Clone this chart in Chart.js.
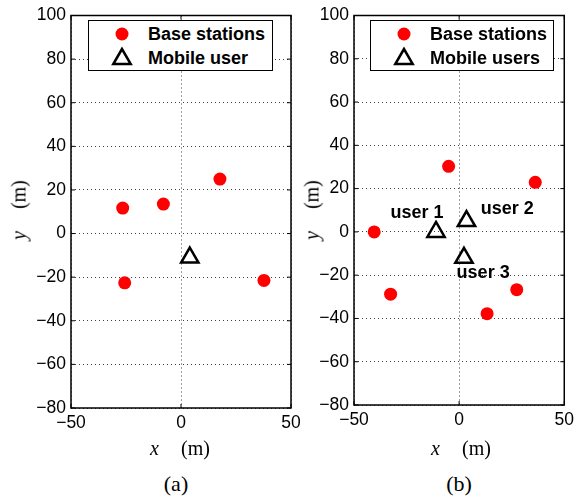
<!DOCTYPE html>
<html>
<head>
<meta charset="utf-8">
<script src="https://cdn.jsdelivr.net/npm/chart.js"></script>
<style>
body { margin: 0; background: #fff; }
#lienzo { position: relative; width: 579px; height: 500px; overflow: hidden; font-family: "Liberation Sans", Arial, sans-serif; }
canvas { position: absolute; top: 0; }
.leyenda { position: absolute; top: 20px; height: 51px; box-sizing: border-box; border: 1.5px solid #000; background: #fff; }
.leyenda .txt { position: absolute; font-weight: bold; font-size: 18px; line-height: 22px; white-space: nowrap; color: #000; }
.leyenda svg { position: absolute; }
.eje { position: absolute; font-family: "Liberation Serif", "DejaVu Serif", serif; font-size: 20px; white-space: nowrap; color: #000; }
.eje i { margin-right: 22px; }
.sub { position: absolute; font-family: "Liberation Serif", "DejaVu Serif", serif; font-size: 22px; color: #000; }
</style>
</head>
<body>
<div id="lienzo">
  <canvas id="graficaA" width="310" height="440" style="left:0"></canvas>
  <canvas id="graficaB" width="289" height="440" style="left:290px"></canvas>

  <div class="leyenda" style="left:88px; width:185px">
    <svg width="16" height="16" style="left:25px; top:5px"><circle cx="8" cy="8" r="6.5" fill="#ff0000"/></svg>
    <div class="txt" style="left:59px; top:2px">Base stations</div>
    <svg width="24" height="22" style="left:21px; top:25px"><polygon points="12,3 3.3,18 20.7,18" fill="none" stroke="#000" stroke-width="2.5" stroke-linejoin="miter"/></svg>
    <div class="txt" style="left:59px; top:26px">Mobile user</div>
  </div>
  <div class="leyenda" style="left:370px; width:184px">
    <svg width="16" height="16" style="left:25px; top:5px"><circle cx="8" cy="8" r="6.5" fill="#ff0000"/></svg>
    <div class="txt" style="left:59px; top:2px">Base stations</div>
    <svg width="24" height="22" style="left:21px; top:25px"><polygon points="12,3 3.3,18 20.7,18" fill="none" stroke="#000" stroke-width="2.5" stroke-linejoin="miter"/></svg>
    <div class="txt" style="left:59px; top:26px">Mobile users</div>
  </div>

  <div class="eje" style="left:19px; top:210px; transform: translate(-50%,-50%) rotate(-90deg)"><i>y</i>(m)</div>
  <div class="eje" style="left:312px; top:210px; transform: translate(-50%,-50%) rotate(-90deg)"><i>y</i>(m)</div>
  <div class="eje" style="left:180px; top:448px; transform: translate(-50%,-50%)"><i>x</i>(m)</div>
  <div class="eje" style="left:461px; top:448px; transform: translate(-50%,-50%)"><i>x</i>(m)</div>
  <div class="sub" style="left:176px; top:484px; transform: translate(-50%,-50%)">(a)</div>
  <div class="sub" style="left:459px; top:484px; transform: translate(-50%,-50%)">(b)</div>
</div>

<script>
// (a) un usuario
var estaciones_a_x = [-26.5, -8, 17.7, -25.6, 37.7]
var estaciones_a_y = [11.7, 13.5, 25, -22.6, -21.5]
var usuario_a_x = [4]
var usuario_a_y = [-11]

// (b) tres usuarios
var estaciones_b_x = [-40.4, -5, 36.2, -32.6, 13.3, 27.4]
var estaciones_b_y = [0, 30.3, 22.9, -28.8, -37.8, -26.7]
var usuarios_b_x = [-11, 3.5, 2.3]
var usuarios_b_y = [0, 5, -12]

// textos de los usuarios (posicion en metros, como text() de matlab)
var etiquetas_b = ['user 1', 'user 2', 'user 3']
var etiquetas_b_x = [-32.6, 10.3, -1.2]
var etiquetas_b_y = [8.6, 10.6, -19]

var ticks_x = [-50, 0, 50]
var ticks_y = [-80, -60, -40, -20, 0, 20, 40, 60, 80, 100]

Chart.defaults.font.family = '"Liberation Sans", Arial, sans-serif'
Chart.defaults.color = '#000'

function puntos(xs, ys) {
    return xs.map(function (x, i) { return { x: x, y: ys[i] } })
}

function menos(v) {
    return String(v).replace('-', '\u2212')
}

// marco negro y ticks hacia adentro en los 4 lados
var marco = {
    id: 'marco',
    afterDraw: function (chart) {
        var ctx = chart.ctx
        var a = chart.chartArea
        var sx = chart.scales.x
        var sy = chart.scales.y
        var largo = 4
        ctx.save()
        ctx.strokeStyle = '#000'
        ctx.lineWidth = 1
        ctx.beginPath()
        ticks_x.forEach(function (v) {
            var px = sx.getPixelForValue(v)
            ctx.moveTo(px, a.bottom); ctx.lineTo(px, a.bottom - largo)
            ctx.moveTo(px, a.top); ctx.lineTo(px, a.top + largo)
        })
        ticks_y.forEach(function (v) {
            var py = sy.getPixelForValue(v)
            ctx.moveTo(a.left, py); ctx.lineTo(a.left + largo, py)
            ctx.moveTo(a.right, py); ctx.lineTo(a.right - largo, py)
        })
        ctx.stroke()
        ctx.lineWidth = 1.5
        ctx.strokeRect(a.left, a.top, a.right - a.left, a.bottom - a.top)
        ctx.restore()
    }
}

var textos = {
    id: 'textos',
    afterDatasetsDraw: function (chart, args, opts) {
        if (!opts.lista) return
        var ctx = chart.ctx
        ctx.save()
        ctx.font = 'bold 18px "Liberation Sans", Arial, sans-serif'
        ctx.fillStyle = '#000'
        ctx.textAlign = 'left'
        ctx.textBaseline = 'middle'
        opts.lista.forEach(function (t, i) {
            ctx.fillText(t, chart.scales.x.getPixelForValue(opts.xs[i]), chart.scales.y.getPixelForValue(opts.ys[i]))
        })
        ctx.restore()
    }
}

function grafica(id, estaciones, usuarios, anchoY, altoX, derecha, etiquetas) {
    var ctx = document.getElementById(id).getContext('2d')
    return new Chart(ctx, {
        type: 'scatter',
        data: {
            datasets: [{
                label: 'Base stations',
                data: estaciones,
                pointStyle: 'circle',
                pointRadius: 6.5,
                pointHoverRadius: 6.5,
                backgroundColor: '#ff0000',
                borderColor: '#ff0000',
                borderWidth: 0
            }, {
                label: 'Mobile user',
                data: usuarios,
                pointStyle: 'triangle',
                pointRadius: 10,
                pointHoverRadius: 10,
                backgroundColor: 'rgba(0,0,0,0)',
                borderColor: '#000',
                borderWidth: 2.5
            }]
        },
        options: {
            responsive: false,
            animation: false,
            events: [],
            layout: { padding: { top: 13, right: derecha, bottom: 0, left: 0 } },
            plugins: {
                legend: { display: false },
                tooltip: { enabled: false },
                textos: etiquetas || {}
            },
            scales: {
                x: {
                    type: 'linear',
                    min: -50, max: 50,
                    afterBuildTicks: function (s) { s.ticks = ticks_x.map(function (v) { return { value: v } }) },
                    afterFit: function (s) { s.height = altoX },
                    grid: { color: 'rgba(0,0,0,0.75)', lineWidth: 1, drawTicks: false },
                    border: { display: false, dash: [1, 3] },
                    ticks: { font: { size: 17.5 }, padding: 5, maxRotation: 0, callback: menos }
                },
                y: {
                    type: 'linear',
                    min: -80, max: 100,
                    afterBuildTicks: function (s) { s.ticks = ticks_y.map(function (v) { return { value: v } }) },
                    afterFit: function (s) { s.width = anchoY },
                    grid: { color: 'rgba(0,0,0,0.75)', lineWidth: 1, drawTicks: false },
                    border: { display: false, dash: [1, 3] },
                    ticks: { font: { size: 17.5 }, padding: 5, callback: menos }
                }
            }
        },
        plugins: [marco, textos]
    })
}

grafica('graficaA', puntos(estaciones_a_x, estaciones_a_y), puntos(usuario_a_x, usuario_a_y), 71, 32, 19)
grafica('graficaB', puntos(estaciones_b_x, estaciones_b_y), puntos(usuarios_b_x, usuarios_b_y), 64, 35, 10,
    { lista: etiquetas_b, xs: etiquetas_b_x, ys: etiquetas_b_y })
</script>
</body>
</html>
